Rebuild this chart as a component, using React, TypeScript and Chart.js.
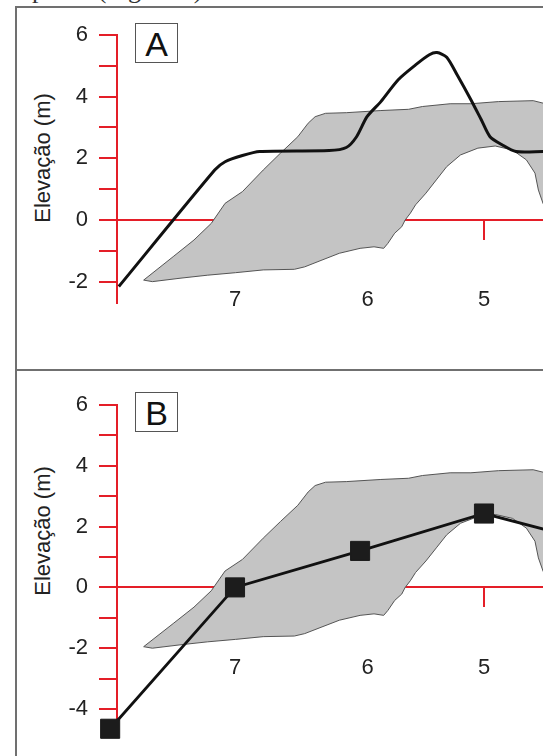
import React, { useEffect, useRef } from 'react';
import { Chart, registerables } from 'chart.js';

Chart.register(...registerables);

// ---------- data ----------
// profile (perfil) positions along the section and their labels
const profileLabels = ['7', '6', '5'];
const profileDistances = [100, 212.3, 311];

// elevation ticks (m)
const elevationTicksA = [-2, -1, 0, 1, 2, 3, 4, 5, 6];
const elevationTicksB = [-4, -3, -2, -1, 0, 1, 2, 3, 4, 5, 6];

// grey envelope (closed outline: upper edge, right flank, lower edge)
const envelopeX = [
  22.6, 47.6, 65.2, 79.9, 91.6, 106.3, 123.9, 138.6, 153.2, 162, 167.9, 176.7, 194.3, 223.6, 247.1, 258.8,
  282.3, 299.9, 323.4, 352.7, 361, 375, 372,
  361, 357.1, 354.2, 346.9, 335.2, 320.5, 305.8, 291.1, 279.4, 270.6, 261.8, 253, 248.6, 244.2, 241.3,
  235.3, 229.5, 226, 217.8, 206, 188.4, 173.7, 159.1, 150.3, 123.9, 100.4, 76.9, 53.4, 30, 22.6,
];
const envelopeY = [
  -1.95, -1.19, -0.65, -0.11, 0.54, 0.92, 1.62, 2.17, 2.7, 3.14, 3.35, 3.46, 3.48, 3.55, 3.59, 3.68,
  3.77, 3.77, 3.84, 3.87, 3.79, 3.5, -0.3,
  0.54, 0.97, 1.52, 1.95, 2.27, 2.4, 2.33, 2.11, 1.73, 1.3, 0.87, 0.49, 0.22, 0, -0.22,
  -0.43, -0.76, -0.92, -0.87, -0.92, -1.08, -1.3, -1.52, -1.6, -1.62, -1.71, -1.79, -1.89, -2.0, -1.95,
];

// panel A: surveyed profile (black line)
const profileAX = [
  1.5, 82.8, 91.6, 106.3, 120.9, 179.7, 194.3, 203, 211.9, 223.6, 238.3, 253, 264.7, 271.2, 279.4, 288.2,
  299.9, 308.7, 316.1, 326.3, 338, 361, 380,
];
const profileAY = [
  -2.16, 1.62, 1.89, 2.09, 2.22, 2.25, 2.35, 2.7, 3.35, 3.84, 4.55, 5.03, 5.36, 5.43, 5.28, 4.71,
  3.9, 3.25, 2.7, 2.44, 2.22, 2.22, 2.22,
];

// panel B: points (black squares)
const profileBX = [-5.8, 100, 206, 311, 400];
const profileBY = [-4.65, 0, 1.2, 2.43, 1.52];

// ---------- style ----------
const RED = 'rgb(228, 30, 40)';
const FONT = "'Liberation Sans', Arial, sans-serif";
const X_MIN = 0;
const X_MAX = 361;
const AXIS_LEFT = 117;

const toPts = (xs: number[], ys: number[]) => xs.map((x, i) => ({ x, y: ys[i] }));

function envelopeDataset() {
  return {
    label: 'Envelope',
    data: toPts(envelopeX, envelopeY),
    showLine: true,
    fill: 'shape',
    backgroundColor: '#c4c4c4',
    borderColor: '#555555',
    borderWidth: 1,
    pointRadius: 0,
    tension: 0,
    order: 2,
  };
}

type PanelProps = {
  top: number;
  height: number;
  yMin: number;
  yTicks: number[];
  padTop: number;
  padBottom: number;
  datasets: any[];
};

function PanelChart({ top, height, yMin, yTicks, padTop, padBottom, datasets }: PanelProps) {
  const ref = useRef<HTMLCanvasElement | null>(null);
  useEffect(() => {
    if (!ref.current) return;
    const chart = new Chart(ref.current, {
      type: 'scatter',
      data: { datasets },
      options: {
        responsive: false,
        animation: false,
        devicePixelRatio: 1,
        layout: { autoPadding: false, padding: { left: 0, right: 0, top: padTop, bottom: padBottom } },
        plugins: { legend: { display: false }, tooltip: { enabled: false }, title: { display: false } },
        scales: {
          x: {
            type: 'linear',
            min: X_MIN,
            max: X_MAX,
            position: { y: 0 },
            afterBuildTicks: (s: any) => {
              s.ticks = profileDistances.map((v) => ({ value: v }));
            },
            ticks: {
              autoSkip: false,
              maxRotation: 0,
              padding: 48,
              color: '#222',
              font: { family: FONT, size: 22 },
              callback: (_v: any, i: number) => profileLabels[i],
            },
            grid: { drawOnChartArea: false, drawTicks: true, tickLength: 19, color: RED, lineWidth: 2 },
            border: { display: true, color: RED, width: 2 },
          },
          y: {
            type: 'linear',
            min: yMin,
            max: 6,
            position: 'left',
            afterFit: (s: any) => {
              s.width = AXIS_LEFT;
            },
            afterBuildTicks: (s: any) => {
              s.ticks = yTicks.map((v) => ({ value: v }));
            },
            ticks: {
              autoSkip: false,
              padding: 11,
              color: '#222',
              font: { family: FONT, size: 22 },
              callback: (v: any) => (Number(v) % 2 === 0 ? String(v) : ''),
            },
            grid: { drawOnChartArea: false, drawTicks: true, tickLength: 18, color: RED, lineWidth: 2 },
            border: { display: true, color: RED, width: 2 },
          },
        },
      } as any,
    });
    return () => chart.destroy();
  }, []);
  return (
    <canvas
      ref={ref}
      width={543}
      height={height}
      style={{ position: 'absolute', left: 0, top, width: 543, height }}
    />
  );
}

const panelBox: React.CSSProperties = {
  position: 'absolute',
  left: 15,
  width: 600,
  boxSizing: 'border-box',
  border: '2px solid #707070',
  background: '#fff',
};

const letterBox = (top: number): React.CSSProperties => ({
  position: 'absolute',
  left: 135,
  top,
  width: 43,
  height: 40,
  boxSizing: 'border-box',
  border: '1.5px solid #555',
  fontFamily: FONT,
  fontSize: 34,
  lineHeight: '37px',
  paddingTop: 2,
  textAlign: 'center',
  color: '#111',
  background: '#fff',
});

const yTitle = (cy: number): React.CSSProperties => ({
  position: 'absolute',
  left: 43,
  top: cy,
  transform: 'translate(-50%, -50%) rotate(-90deg)',
  whiteSpace: 'nowrap',
  fontFamily: FONT,
  fontSize: 22,
  color: '#222',
  lineHeight: '26px',
});

export default function App() {
  const datasetsA = [
    {
      label: 'Perfil A',
      data: toPts(profileAX, profileAY),
      showLine: true,
      fill: false,
      borderColor: '#111',
      borderWidth: 3,
      pointRadius: 0,
      tension: 0.25,
      clip: false,
      order: 1,
    },
    envelopeDataset(),
  ];
  const datasetsB = [
    {
      label: 'Perfil B',
      data: toPts(profileBX, profileBY),
      showLine: true,
      fill: false,
      borderColor: '#111',
      borderWidth: 2.8,
      pointStyle: 'rect',
      pointRadius: 13.5,
      pointBackgroundColor: '#1c1c1c',
      pointBorderColor: '#1c1c1c',
      pointBorderWidth: 1,
      tension: 0,
      clip: false,
      order: 1,
    },
    envelopeDataset(),
  ];
  return (
    <div
      style={{
        position: 'fixed',
        left: 0,
        top: 0,
        width: 543,
        height: 756,
        overflow: 'hidden',
        background: '#fff',
      }}
    >
      <div
        style={{
          position: 'absolute',
          left: 32,
          top: -22,
          fontFamily: "'Liberation Serif', 'Times New Roman', serif",
          fontSize: 26,
          lineHeight: '24px',
          color: '#333',
          whiteSpace: 'nowrap',
        }}
      >
        perfis (Figura 5).
      </div>
      <div style={{ ...panelBox, top: 6, height: 365 }} />
      <div style={{ ...panelBox, top: 369, height: 420 }} />
      <div style={yTitle(157.5)}>Elevação (m)</div>
      <div style={yTitle(531)}>Elevação (m)</div>
      <PanelChart
        top={0}
        height={370}
        yMin={-2.68}
        yTicks={elevationTicksA}
        padTop={35}
        padBottom={67.4}
        datasets={datasetsA}
      />
      <PanelChart
        top={370}
        height={386}
        yMin={-4.75}
        yTicks={elevationTicksB}
        padTop={35}
        padBottom={21.3}
        datasets={datasetsB}
      />
      <div style={letterBox(23)}>A</div>
      <div style={letterBox(392)}>B</div>
    </div>
  );
}
